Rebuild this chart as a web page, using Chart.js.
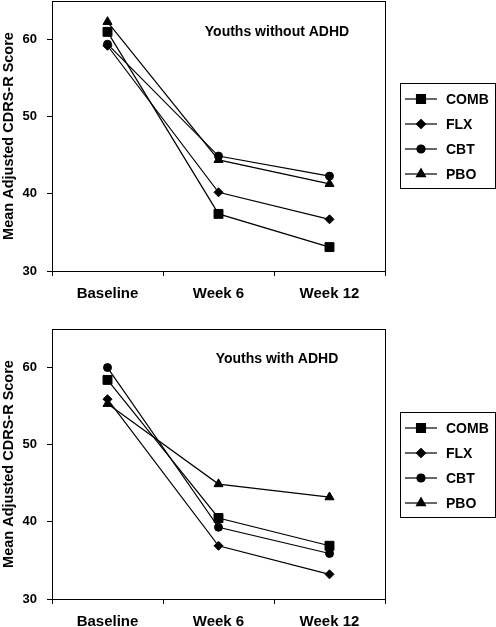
<!DOCTYPE html>
<html>
<head>
<meta charset="utf-8">
<script src="https://cdn.jsdelivr.net/npm/chart.js@4.4.0/dist/chart.umd.min.js"></script>
<style>
  html, body { margin: 0; padding: 0; background: #fff; }
  #wrap { position: relative; width: 496px; height: 627px; }
  .painel { position: absolute; left: 0; width: 496px; }
</style>
</head>
<body>
<div id="wrap">
  <div class="painel" style="top:0;height:310px"><canvas id="grafico-sem"></canvas></div>
  <div class="painel" style="top:310px;height:317px"><canvas id="grafico-com"></canvas></div>
</div>
<script>
// categorias e series
const categorias = ['Baseline', 'Week 6', 'Week 12'];
const grupos = ['COMB', 'FLX', 'CBT', 'PBO'];
const estilos = ['rect', 'rectRot', 'circle', 'triangle'];
const raios = [6.3, 4.5, 4, 5.2];

// Youths without ADHD
const semComb = [61.0, 37.4, 33.1];
const semFlx = [59.2, 40.2, 36.7];
const semCbt = [59.4, 44.9, 42.3];
const semPbo = [62.3, 44.4, 41.3];

// Youths with ADHD
const comComb = [58.4, 40.5, 36.9];
const comFlx = [55.9, 36.9, 33.2];
const comCbt = [60.0, 39.3, 35.9];
const comPbo = [55.3, 44.9, 43.2];

const yTicks = [30, 40, 50, 60];
const yMin = 30, yMax = 65;

const fonte = "'Liberation Sans', Arial, sans-serif";

function montarDatasets(series) {
    return series.map((valores, i) => ({
        label: grupos[i],
        data: valores,
        borderColor: '#000',
        backgroundColor: '#000',
        borderWidth: 1.2,
        pointStyle: estilos[i],
        pointRadius: raios[i],
        pointBorderWidth: 1,
        tension: 0
    }));
}

// moldura, anotação e legenda desenhadas à mão
const pluginExtras = {
    id: 'extras',
    afterDatasetsDraw(chart, args, opts) {
        const ctx = chart.ctx;
        const a = chart.chartArea;
        ctx.save();
        ctx.strokeStyle = '#000';
        ctx.lineWidth = 1;
        ctx.strokeRect(Math.round(a.left) + 0.5, Math.round(a.top) + 0.5,
            Math.round(a.right - a.left), Math.round(a.bottom - a.top));

        ctx.fillStyle = '#000';
        ctx.font = 'bold 14px ' + fonte;
        ctx.textAlign = 'center';
        ctx.textBaseline = 'middle';
        ctx.fillText(opts.titulo, 277, opts.tituloY);

        // legenda
        const bx = 400, by = opts.legendaY;
        ctx.strokeRect(bx + 0.5, by + 0.5, 95, 105);
        chart.data.datasets.forEach((ds, i) => {
            const y = by + 16 + i * 25;
            ctx.beginPath();
            ctx.moveTo(405, y);
            ctx.lineTo(437, y);
            ctx.lineWidth = 1.2;
            ctx.stroke();
            Chart.helpers.drawPoint(ctx, {
                pointStyle: ds.pointStyle,
                radius: ds.pointRadius,
                rotation: 0,
                borderWidth: 1
            }, 421, y);
            ctx.fill();
            ctx.font = 'bold 14px ' + fonte;
            ctx.textAlign = 'left';
            ctx.fillText(ds.label, 446, y + 1);
        });
        ctx.restore();
    }
};

function criarGrafico(idCanvas, series, titulo, tituloY, legendaY, padTop, alturaX) {
    const ctx = document.getElementById(idCanvas).getContext('2d');
    return new Chart(ctx, {
        type: 'line',
        data: {
            labels: categorias,
            datasets: montarDatasets(series)
        },
        options: {
            responsive: true,
            maintainAspectRatio: false,
            animation: false,
            layout: {
                autoPadding: false,
                padding: { top: padTop, right: 111, left: 0, bottom: 0 }
            },
            plugins: {
                legend: { display: false },
                tooltip: { enabled: false },
                extras: { titulo: titulo, tituloY: tituloY, legendaY: legendaY }
            },
            scales: {
                x: {
                    type: 'category',
                    offset: true,
                    border: { display: false },
                    grid: {
                        offset: true,
                        drawOnChartArea: false,
                        tickLength: 5,
                        color: '#000'
                    },
                    ticks: {
                        color: '#000',
                        padding: 9,
                        font: { family: fonte, size: 15, weight: 'bold' }
                    },
                    afterFit: (s) => {
                        s.height = alturaX;
                        s.paddingLeft = 0;
                        s.paddingRight = 0;
                    }
                },
                y: {
                    min: yMin,
                    max: yMax,
                    border: { display: false },
                    grid: {
                        drawOnChartArea: false,
                        tickLength: 5,
                        color: '#000'
                    },
                    afterBuildTicks: (s) => {
                        s.ticks = yTicks.map(v => ({ value: v }));
                    },
                    ticks: {
                        color: '#000',
                        padding: 10,
                        font: { family: fonte, size: 13, weight: 'bold', lineHeight: 0.1 }
                    },
                    title: {
                        display: true,
                        text: 'Mean Adjusted CDRS-R Score',
                        color: '#000',
                        padding: 0,
                        font: { family: fonte, size: 14.5, weight: 'bold' }
                    },
                    afterFit: (s) => {
                        // o eixo não deve empurrar a área do gráfico para baixo
                        s.width = 52;
                        s.paddingTop = 0;
                        s.paddingBottom = 0;
                    }
                }
            }
        },
        plugins: [pluginExtras]
    });
}

criarGrafico('grafico-sem', [semComb, semFlx, semCbt, semPbo], 'Youths without ADHD', 32, 83, 1, 39);
criarGrafico('grafico-com', [comComb, comFlx, comCbt, comPbo], 'Youths with ADHD', 49, 102, 19, 28);
</script>
</body>
</html>
